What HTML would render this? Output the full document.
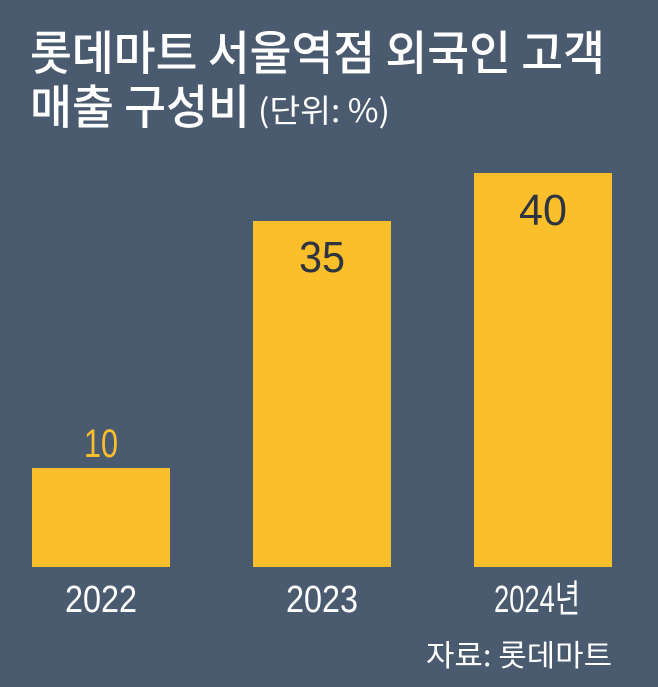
<!DOCTYPE html>
<html><head><meta charset="utf-8"><style>
html,body{margin:0;padding:0;background:#4b5b6f;}
svg{display:block}
text{font-family:"Liberation Sans","Noto Sans CJK KR",sans-serif;}
</style></head><body>
<svg width="658" height="687" viewBox="0 0 658 687" xmlns="http://www.w3.org/2000/svg">
<rect width="658" height="687" fill="#4b5b6f"/>
<g fill="#ffffff">
<text x="30" y="70" font-size="47" font-weight="500" textLength="575" lengthAdjust="spacingAndGlyphs" style="font-family:'Noto Sans CJK KR',sans-serif">롯데마트 서울역점 외국인 고객</text>
<text x="30" y="124" font-size="47" font-weight="500" textLength="220" lengthAdjust="spacingAndGlyphs" style="font-family:'Noto Sans CJK KR',sans-serif">매출 구성비</text>
<text x="258" y="122" font-size="32" textLength="132" lengthAdjust="spacingAndGlyphs" style="font-family:'Noto Sans CJK KR',sans-serif">(단위: %)</text>
</g>
<rect x="32" y="468" width="138" height="99" fill="#fbbf2b"/>
<rect x="253" y="221" width="138" height="346" fill="#fbbf2b"/>
<rect x="474" y="173" width="138" height="394" fill="#fbbf2b"/>
<g text-anchor="middle" style="font-family:'Noto Sans CJK KR',sans-serif">
<text x="101" y="457" font-size="40" fill="#fbbf2b" textLength="34" lengthAdjust="spacingAndGlyphs">10</text>
<text x="322" y="272" font-size="44" fill="#2e3440" textLength="46" lengthAdjust="spacingAndGlyphs">35</text>
<text x="543" y="225" font-size="44" fill="#2e3440" textLength="48" lengthAdjust="spacingAndGlyphs">40</text>
<text x="101" y="612" font-size="38" fill="#fff" textLength="72" lengthAdjust="spacingAndGlyphs">2022</text>
<text x="322" y="612" font-size="38" fill="#fff" textLength="72" lengthAdjust="spacingAndGlyphs">2023</text>
<text x="537" y="612" font-size="38" fill="#fff" textLength="86" lengthAdjust="spacingAndGlyphs">2024년</text>
</g>
<text x="612" y="666" font-size="30" fill="#fff" text-anchor="end" textLength="186" lengthAdjust="spacingAndGlyphs" style="font-family:'Noto Sans CJK KR',sans-serif">자료: 롯데마트</text>
</svg>
</body></html>
